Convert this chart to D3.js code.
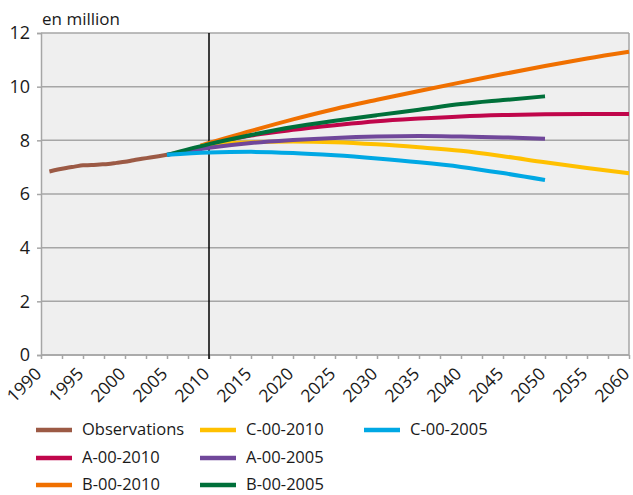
<!DOCTYPE html>
<html>
<head>
<meta charset="utf-8">
<script src="https://cdn.jsdelivr.net/npm/d3@7"></script>
<style>
  html, body { margin: 0; padding: 0; background: #fff; }
  svg { display: block; font-family: "Open Sans", "Noto Sans", sans-serif; }
</style>
</head>
<body>
<svg id="chart" width="633" height="495"></svg>
<script>
// Population of Switzerland, observed and scenario projections (millions)
const obsYears = [1991, 1992, 1993, 1994, 1995, 1996, 1997, 1998, 1999, 2000, 2001, 2002, 2003, 2004, 2005];
const obsValues = [6.84, 6.91, 6.97, 7.02, 7.07, 7.08, 7.10, 7.12, 7.16, 7.20, 7.26, 7.31, 7.36, 7.41, 7.46];

const years2010 = [2009, 2010, 2015, 2020, 2025, 2030, 2035, 2040, 2045, 2050, 2055, 2060];
const a2010 = [7.79, 7.87, 8.18, 8.39, 8.56, 8.71, 8.81, 8.89, 8.94, 8.97, 8.98, 8.98];
const b2010 = [7.80, 7.90, 8.35, 8.78, 9.17, 9.51, 9.84, 10.16, 10.47, 10.77, 11.05, 11.30];
const c2010 = [7.79, 7.84, 7.93, 7.96, 7.93, 7.85, 7.74, 7.61, 7.41, 7.18, 6.97, 6.77];

const years2005 = [2005, 2010, 2015, 2020, 2025, 2030, 2035, 2040, 2045, 2050];
const a2005 = [7.46, 7.72, 7.90, 8.01, 8.09, 8.14, 8.16, 8.14, 8.11, 8.06];
const b2005 = [7.46, 7.86, 8.20, 8.50, 8.73, 8.94, 9.14, 9.35, 9.50, 9.64];
const c2005 = [7.46, 7.55, 7.57, 7.53, 7.44, 7.32, 7.18, 7.01, 6.78, 6.52];

const seriesNames = ["Observations", "A-00-2010", "B-00-2010", "C-00-2010", "A-00-2005", "B-00-2005", "C-00-2005"];
const seriesColors = ["#9c5a45", "#c0064b", "#f07000", "#ffc000", "#70479a", "#00703a", "#00a8e4"];

const yTicks = [0, 2, 4, 6, 8, 10, 12];
const xTicks = d3.range(1990, 2061, 5);
const unitLabel = "en million";
const markerYear = 2010;

const series = [
  { years: obsYears, values: obsValues },
  { years: years2010, values: a2010 },
  { years: years2010, values: b2010 },
  { years: years2010, values: c2010 },
  { years: years2005, values: a2005 },
  { years: years2005, values: b2005 },
  { years: years2005, values: c2005 }
].map((s, i) => ({ name: seriesNames[i], color: seriesColors[i],
  points: s.years.map((y, j) => ({ year: y, value: s.values[j] })) }));

const svg = d3.select("#chart");
const plot = { left: 41, right: 629, top: 33, bottom: 355 };
const textColor = "#1a1a1a";
const gridColor = "#a6a6a6";

const x = d3.scaleLinear().domain([1990, 2060]).range([plot.left, plot.right]);
const y = d3.scaleLinear().domain([0, 12]).range([plot.bottom, plot.top]);

// plot background
svg.append("rect")
  .attr("x", plot.left).attr("y", plot.top)
  .attr("width", plot.right - plot.left).attr("height", plot.bottom - plot.top)
  .attr("fill", "#efefef");

// horizontal grid lines
svg.append("g").selectAll("line").data(yTicks).join("line")
  .attr("x1", plot.left).attr("x2", plot.right)
  .attr("y1", d => y(d)).attr("y2", d => y(d))
  .attr("stroke", gridColor).attr("stroke-width", 1.5);

// right frame edge
svg.append("line")
  .attr("x1", plot.right).attr("x2", plot.right)
  .attr("y1", plot.top).attr("y2", plot.bottom)
  .attr("stroke", gridColor).attr("stroke-width", 1.5);

// y axis
const yAxis = svg.append("g")
  .attr("transform", `translate(${plot.left},0)`)
  .call(d3.axisLeft(y).tickValues(yTicks).tickSize(4).tickPadding(7).tickFormat(d3.format("d")));
yAxis.attr("font-family", null).attr("font-size", null);
yAxis.select(".domain").attr("stroke", gridColor).attr("stroke-width", 1.5);
yAxis.selectAll(".tick line").attr("stroke", gridColor).attr("stroke-width", 1.5);
yAxis.selectAll(".tick text").attr("fill", textColor).style("font-size", "18px");

// x axis with minor ticks every 2.5 years
const xAxisG = svg.append("g").attr("transform", `translate(0,${plot.bottom})`);
xAxisG.call(d3.axisBottom(x).tickValues(d3.range(1990, 2061, 2.5)).tickSize(4).tickFormat(""));
xAxisG.select(".domain").remove();
xAxisG.selectAll(".tick line").attr("stroke", gridColor).attr("stroke-width", 1.5);
xAxisG.append("line").attr("x1", plot.left).attr("x2", plot.right)
  .attr("stroke", gridColor).attr("stroke-width", 1.5);

// rotated year labels, ending just right of each tick
svg.append("g").selectAll("text").data(xTicks).join("text")
  .attr("transform", d => `translate(${x(d) + 1.5},${plot.bottom + 20}) rotate(-45)`)
  .attr("text-anchor", "end")
  .attr("fill", textColor)
  .style("font-size", "17.5px")
  .text(d => d);

// unit label
svg.append("text").attr("x", 42).attr("y", 25)
  .attr("fill", textColor).style("font-size", "17px").text(unitLabel);

// vertical marker at 2010
svg.append("line")
  .attr("x1", x(markerYear)).attr("x2", x(markerYear))
  .attr("y1", plot.top).attr("y2", plot.bottom + 4)
  .attr("stroke", "#000").attr("stroke-width", 1.5);

// series lines
const line = d3.line().x(d => x(d.year)).y(d => y(d.value)).curve(d3.curveMonotoneX);
svg.append("g").selectAll("path").data(series).join("path")
  .attr("d", d => line(d.points))
  .attr("fill", "none")
  .attr("stroke", d => d.color)
  .attr("stroke-width", 4);

// legend: three columns, filled column by column
const legendCols = [36, 200, 364];
const legendRows = [430, 458, 485];
const leg = svg.append("g").selectAll("g").data(series).join("g")
  .attr("transform", (d, i) => `translate(${legendCols[Math.floor(i / 3)]},${legendRows[i % 3]})`);
leg.append("line").attr("x1", 0).attr("x2", 36).attr("y1", 0).attr("y2", 0)
  .attr("stroke", d => d.color).attr("stroke-width", 4.5);
leg.append("text").attr("x", 46).attr("dy", "0.33em")
  .attr("fill", textColor).style("font-size", "16.5px").text(d => d.name);
</script>
</body>
</html>
